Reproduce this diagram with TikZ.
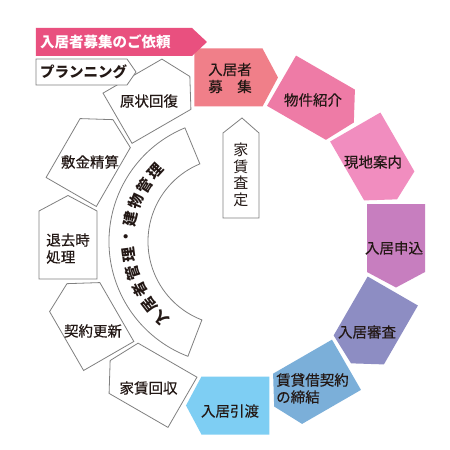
\documentclass[tikz,border=0pt]{standalone}
\usepackage{fontspec}
\setmainfont{Noto Sans CJK JP}
\newfontfamily\medfont[FakeBold=0.4]{Noto Sans CJK JP}
\definecolor{cBanner}{HTML}{E9507F}
\definecolor{cA}{HTML}{F07F89}
\definecolor{cB}{HTML}{EE7BA6}
\definecolor{cC}{HTML}{F18DBF}
\definecolor{cD}{HTML}{C77EBF}
\definecolor{cE}{HTML}{8D8DC3}
\definecolor{cF}{HTML}{7BAFD9}
\definecolor{cG}{HTML}{7ECEF3}
\definecolor{edgegray}{HTML}{808080}
\definecolor{ink}{HTML}{231815}
\newcommand{\flowbox}[2]{%
  \begin{scope}[shift={(#1:164)}, rotate={#1-90}]
    \path[#2] (-37.5,-29) -- (30.5,-29) -- (46,0) -- (30.5,29) -- (-37.5,29) -- cycle;
  \end{scope}}
\begin{document}
\begin{tikzpicture}[x=1pt,y=1pt,
  whitebox/.style={fill=white,draw=edgegray,line width=0.8pt},
  lbl/.style={inner sep=0pt,text=ink,font=\medfont\fontsize{14.5}{17}\selectfont,align=center},
  arcch/.style={inner sep=0pt,text=ink,font=\fontsize{15}{16}\selectfont\bfseries}]
\useasboundingbox (-232,-208.5) rectangle (218,241.5);
\fill[white] (-232,-208.5) rectangle (218,241.5);
% ring of steps
\flowbox{90}{fill=cA}
\flowbox{60}{fill=cB}
\flowbox{30}{fill=cC}
\flowbox{0}{fill=cD}
\flowbox{-30}{fill=cE}
\flowbox{-60}{fill=cF}
\flowbox{-90}{fill=cG}
\flowbox{-120}{whitebox}
\flowbox{-150}{whitebox}
\flowbox{180}{whitebox}
\flowbox{150}{whitebox}
\flowbox{120}{whitebox}
% labels
\node[lbl] (boshu) at (-2,163.5) {入居者\\募　集};
\node[lbl] (bukken) at (81,141.5) {物件紹介};
\node[lbl] (genchi) at (141,79.5) {現地案内};
\node[lbl] (moushikomi) at (162,-6.5) {入居申込};
\node[lbl] (shinsa) at (135,-90.5) {入居審査};
\node[lbl,align=left] (keiyaku) at (80.5,-147) {賃貸借契約\\の締結};
\node[lbl] (hikiwatashi) at (-2,-169.5) {入居引渡};
\node[lbl] (kaishu) at (-83.5,-146.5) {家賃回収};
\node[lbl] (koshin) at (-139,-89.5) {契約更新};
\node[lbl,align=left] (taikyo) at (-164,-7) {退去時\\処理};
\node[lbl] (shikikin) at (-142,79.5) {敷金精算};
\node[lbl] (genjo) at (-83,140.5) {原状回復};
% inner band
\draw[whitebox] (112.5:123) arc[start angle=112.5,end angle=249,radius=123]
  -- (249:84) arc[start angle=249,end angle=112.5,radius=84] -- cycle;
\foreach \ch [count=\k from 0] in {入,居,者,管,理,・,建,物,管,理} {
  \node[arcch, rotate={137.5-10*\k}] (arc\k) at ({227.5-10*\k}:104) {\ch};
}
% rent assessment
\draw[whitebox] (10,123.5) -- (27,108.5) -- (27,23.5) -- (-9,23.5) -- (-9,108.5) -- cycle;
\node[inner sep=0pt,text=ink,align=center,font=\fontsize{15}{16.5}\selectfont] (satei) at (9,66.5) {家\\賃\\査\\定};
% banner and planning
\fill[cBanner] (-196,213.5) -- (-40,213.5) -- (-25,199.5) -- (-40,185.5) -- (-196,185.5) -- cycle;
\node[inner sep=0pt,anchor=west,text=white,font=\fontsize{14.5}{17}\selectfont\bfseries] (irai) at (-192,199.5) {入居者募集のご依頼};
\draw[whitebox] (-196,182.5) -- (-105,182.5) -- (-96,169.5) -- (-105,156.5) -- (-196,156.5) -- cycle;
\node[inner sep=0pt,anchor=west,text=ink,font=\fontsize{14.5}{17}\selectfont\bfseries] (plan) at (-192,169.5) {プランニング};
\end{tikzpicture}
\end{document}
